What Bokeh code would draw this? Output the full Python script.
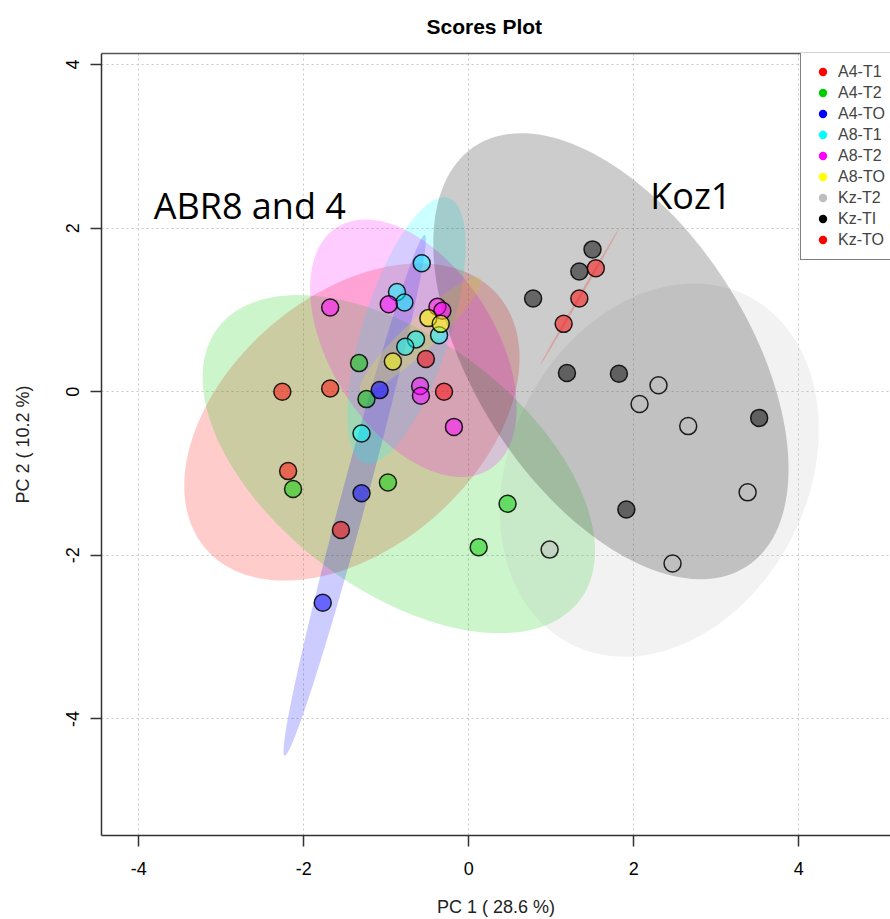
import numpy as np
from bokeh.plotting import figure
from bokeh.models import Range1d, FixedTicker, LinearAxis, Legend, LegendItem, Label
from bokeh.embed import file_html
from bokeh.resources import INLINE

# ---------------- data ----------------
groups = ["A4-T1", "A4-T2", "A4-TO", "A8-T1", "A8-T2", "A8-TO", "Kz-T2", "Kz-TI", "Kz-TO"]
colors = ["#FF0000", "#00CD00", "#0000FF", "#00FFFF", "#FF00FF", "#FFFF00", "#BEBEBE", "#000000", "#FF0000"]

a4_t1_x = [-2.26, -1.68, -2.19, -1.55, -0.52, -0.30]
a4_t1_y = [0.00, 0.04, -0.97, -1.69, 0.40, 0.00]

a4_t2_x = [-1.33, -1.24, -2.13, -0.98, 0.47, 0.12]
a4_t2_y = [0.35, -0.09, -1.19, -1.11, -1.37, -1.90]

a4_to_x = [-1.08, -1.30, -1.77]
a4_to_y = [0.02, -1.24, -2.58]

a8_t1_x = [-0.57, -0.87, -0.78, -0.36, -0.64, -0.77, -1.30]
a8_t1_y = [1.57, 1.22, 1.09, 0.69, 0.64, 0.55, -0.51]

a8_t2_x = [-1.68, -0.97, -0.38, -0.32, -0.59, -0.58, -0.18]
a8_t2_y = [1.03, 1.07, 1.04, 0.99, 0.07, -0.05, -0.43]

a8_to_x = [-0.49, -0.34, -0.92]
a8_to_y = [0.90, 0.83, 0.37]

kz_t2_x = [2.30, 2.07, 2.66, 3.38, 0.98, 2.47]
kz_t2_y = [0.08, -0.15, -0.42, -1.23, -1.93, -2.10]

kz_ti_x = [1.50, 1.34, 0.78, 1.19, 1.82, 3.52, 1.91]
kz_ti_y = [1.74, 1.47, 1.14, 0.23, 0.22, -0.32, -1.44]

kz_to_x = [1.54, 1.34, 1.15]
kz_to_y = [1.51, 1.14, 0.83]

xs_all = [a4_t1_x, a4_t2_x, a4_to_x, a8_t1_x, a8_t2_x, a8_to_x, kz_t2_x, kz_ti_x, kz_to_x]
ys_all = [a4_t1_y, a4_t2_y, a4_to_y, a8_t1_y, a8_t2_y, a8_to_y, kz_t2_y, kz_ti_y, kz_to_y]

x_ticks = [-4, -2, 0, 2, 4]
x_tick_labels = ["-4", "-2", "0", "2", "4"]
y_ticks = [-4, -2, 0, 2, 4]
y_tick_labels = ["-4", "-2", "0", "2", "4"]

title_text = "Scores Plot"
x_label = "PC 1 ( 28.6 %)"
y_label = "PC 2 ( 10.2 %)"
note_left = "ABR8 and 4"
note_right = "Koz1"


def conf_ellipse(xs, ys, n=160, chi2=5.991):
    """95% confidence ellipse of a group's scores (covariance based)."""
    pts = np.column_stack([xs, ys]).astype(float)
    mu = pts.mean(axis=0)
    cov = np.cov(pts.T)
    vals, vecs = np.linalg.eigh(cov)
    vals = np.maximum(vals, 0.0)
    t = np.linspace(0, 2 * np.pi, n)
    circ = np.stack([np.cos(t), np.sin(t)])
    e = vecs @ (np.sqrt(vals * chi2)[:, None] * circ) + mu[:, None]
    return list(e[0]), list(e[1])


FONT = "Liberation Sans"

p = figure(width=890, height=919, output_backend="svg", toolbar_location=None,
           x_range=Range1d(-4.452, 5.112), y_range=Range1d(-5.425, 4.135),
           min_border_left=101, min_border_right=0, min_border_top=53, min_border_bottom=83,
           title=title_text)

p.title.text_font = FONT
p.title.text_font_size = "21px"
p.title.text_font_style = "bold"
p.title.align = "left"
p.title.offset = 325
p.title.standoff = 28
p.title.vertical_align = "top"
p.title.text_color = "black"

p.outline_line_color = None
p.background_fill_color = "white"

# axes
xa = p.xaxis[0]
xa.ticker = FixedTicker(ticks=x_ticks)
xa.major_label_overrides = {float(t): s for t, s in zip(x_ticks, x_tick_labels)}
ya = p.yaxis[0]
ya.ticker = FixedTicker(ticks=y_ticks)
ya.major_label_overrides = {float(t): s for t, s in zip(y_ticks, y_tick_labels)}
ya.major_label_orientation = "vertical"
for ax in (xa, ya):
    ax.axis_line_color = "#333333"
    ax.axis_line_width = 1.5
    ax.major_tick_line_color = "#333333"
    ax.major_tick_line_width = 1.5
    ax.major_tick_out = 11
    ax.major_tick_in = 0
    ax.minor_tick_line_color = None
    ax.major_label_text_font = FONT
    ax.major_label_text_font_size = "18px"
    ax.major_label_text_color = "black"
    ax.axis_label_text_font = FONT
    ax.axis_label_text_font_size = "18px"
    ax.axis_label_text_font_style = "normal"
    ax.axis_label_text_color = "#222222"
xa.major_label_standoff = 15
ya.major_label_standoff = 11
xa.axis_label = x_label
ya.axis_label = y_label
xa.axis_label_standoff = 19
ya.axis_label_standoff = 31

top_axis = LinearAxis(ticker=FixedTicker(ticks=[]), major_label_text_font_size="0px",
                      major_tick_line_color=None, minor_tick_line_color=None,
                      axis_line_color="#555555", axis_line_width=1.5)
p.add_layout(top_axis, "above")

# grid
p.xgrid.ticker = FixedTicker(ticks=x_ticks)
p.ygrid.ticker = FixedTicker(ticks=y_ticks)
for g in (p.xgrid, p.ygrid):
    g.grid_line_color = "#c8c8c8"
    g.grid_line_dash = "2 3"
    g.grid_line_width = 1

# ellipses
for gx, gy, c in zip(xs_all, ys_all, colors):
    ex, ey = conf_ellipse(gx, gy)
    p.patch(ex, ey, fill_color=c, fill_alpha=0.2, line_color=None)

# points
for gx, gy, c in zip(xs_all, ys_all, colors):
    p.scatter(gx, gy, marker="circle", size=17, fill_color=c, fill_alpha=0.5,
              line_color="black", line_alpha=0.85, line_width=1.5)

# legend (solid markers without outline, as in the reference)
items = []
for g, c, gx, gy in zip(groups, colors, xs_all, ys_all):
    r = p.scatter(x=gx[:1], y=gy[:1], marker="circle", size=0, fill_color=c, line_color=None)
    items.append(LegendItem(label=g, renderers=[r]))
legend = Legend(items=items, location=(699, 575), orientation="vertical",
                padding=9, margin=0, spacing=0, glyph_width=25, glyph_height=21,
                label_height=21, label_standoff=3,
                label_text_font=FONT, label_text_font_size="16px",
                border_line_color="black", border_line_width=1,
                background_fill_color="white", background_fill_alpha=1.0)
p.add_layout(legend)

# annotations
p.add_layout(Label(x=-3.82, y=2.28, text=note_left, text_font="Open Sans",
                   text_font_size="36px", text_baseline="alphabetic", text_align="left",
                   text_color="black"))
p.add_layout(Label(x=2.20, y=2.40, text=note_right, text_font="Open Sans",
                   text_font_size="36px", text_baseline="alphabetic", text_align="left",
                   text_color="black"))

open("out.html", "w").write(file_html(p, INLINE))
